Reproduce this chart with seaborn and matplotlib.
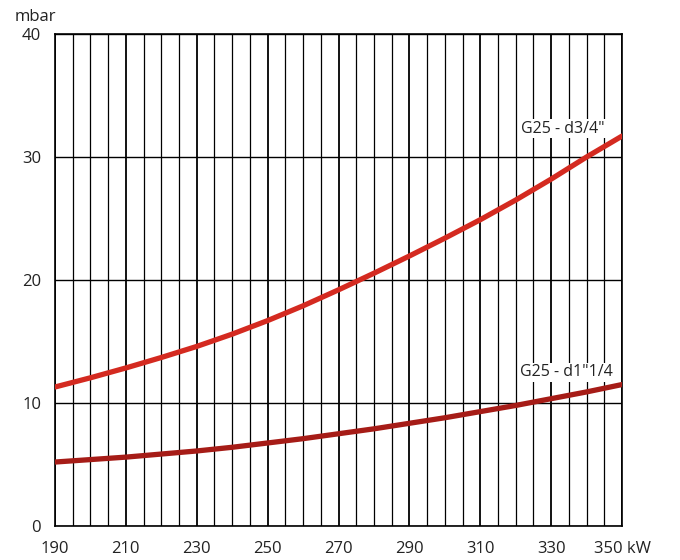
import numpy as np
import pandas as pd
import matplotlib
matplotlib.use("Agg")
import matplotlib.pyplot as plt
import seaborn as sns

# values
power_kw = [190, 200, 210, 220, 230, 240, 250, 260, 270, 280, 290, 300, 310, 320, 330, 340, 350]
d34 = [11.3, 12.05, 12.85, 13.7, 14.6, 15.6, 16.7, 17.9, 19.2, 20.55, 21.95, 23.4, 24.9, 26.5, 28.2, 30.0, 31.7]
d114 = [5.2, 5.4, 5.6, 5.85, 6.1, 6.4, 6.75, 7.1, 7.5, 7.9, 8.35, 8.8, 9.3, 9.8, 10.35, 10.9, 11.5]
series_names = ['G25 - d3/4"', 'G25 - d1"1/4']
x_labels = ["190", "210", "230", "250", "270", "290", "310", "330", "350 kW"]
y_ticks = [0, 10, 20, 30, 40]

df = pd.DataFrame({
    "kW": power_kw * 2,
    "mbar": d34 + d114,
    "curve": [series_names[0]] * len(power_kw) + [series_names[1]] * len(power_kw),
})

sns.set_style("white")
plt.rcParams['font.family'] = ['Open Sans', 'DejaVu Sans']

fig = plt.figure(figsize=(6.8, 5.6), dpi=100)
ax = fig.add_axes([55 / 680, 34 / 560, 567 / 680, 492 / 560])

# grid: verticals every 5 kW, horizontals every 10 mbar
for xv in np.arange(190, 351, 5):
    lw = 1.3 if (xv - 190) % 20 == 0 else 0.9
    ax.axvline(xv, color="black", lw=lw, zorder=1)
for yv in y_ticks:
    ax.axhline(yv, color="black", lw=1.0, zorder=1)

sns.lineplot(data=df, x="kW", y="mbar", hue="curve",
             palette=["#d42a20", "#a61c17"], linewidth=3.8,
             legend=False, ax=ax, zorder=3)

ax.set_xlim(190, 350)
ax.set_ylim(0, 40)
ax.set_xticks(range(190, 351, 20))
ax.set_xticklabels(x_labels)
ax.set_yticks(y_ticks)
ax.tick_params(axis="both", length=0, labelsize=12, colors="#222222")
ax.tick_params(axis="x", pad=11)
ax.tick_params(axis="y", pad=10)
ax.set_xlabel("")
ax.set_ylabel("")
for s in ax.spines.values():
    s.set_color("black")
    s.set_linewidth(1.2)

fig.text(15 / 680, 1 - 17 / 560, "mbar", fontsize=12, color="#222222", va="center")
ax.text(345.2, 32.3, series_names[0], fontsize=11.5, color="#222222", ha="right", va="center",
        bbox=dict(facecolor="white", edgecolor="none", pad=1))
ax.text(347.5, 12.5, series_names[1], fontsize=11.5, color="#222222", ha="right", va="center",
        bbox=dict(facecolor="white", edgecolor="none", pad=1))

fig.savefig("out.png", dpi=100)
